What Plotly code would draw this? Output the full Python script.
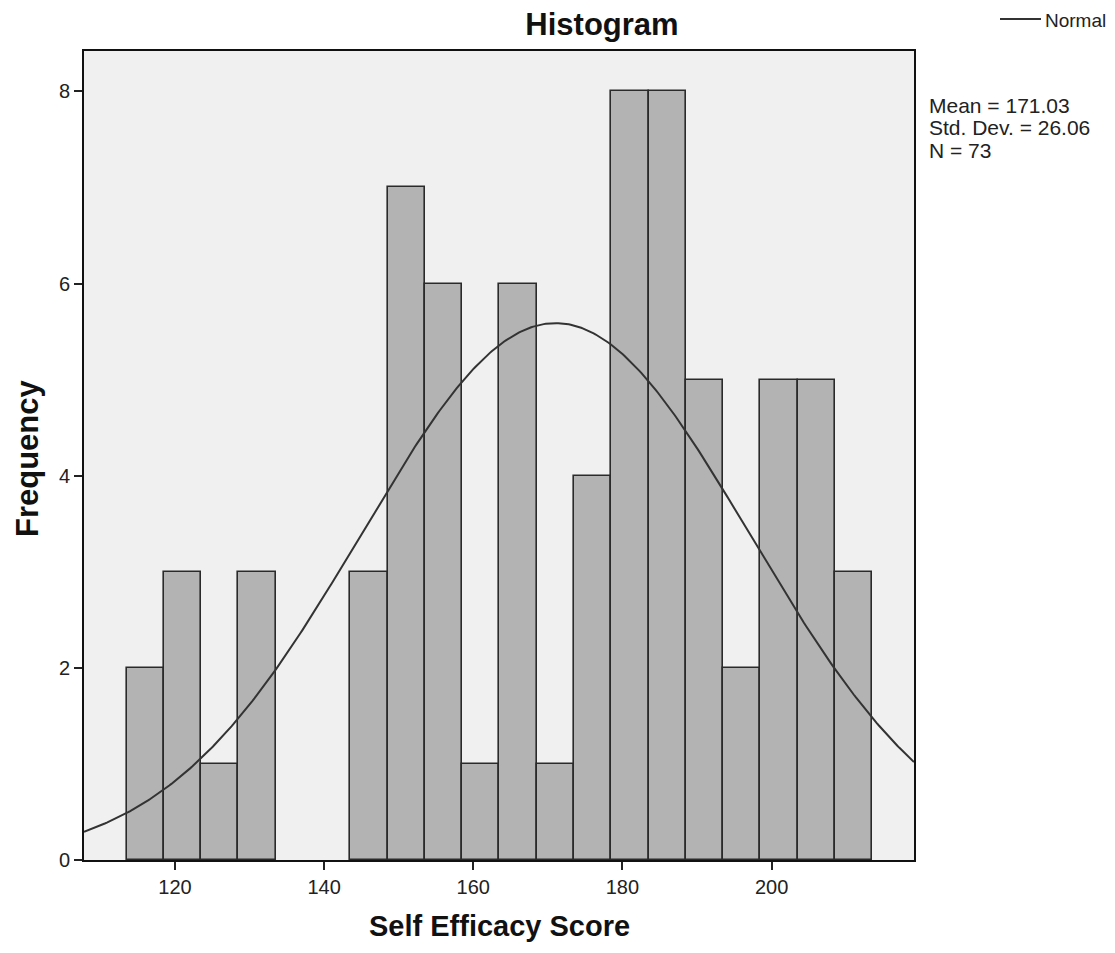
import numpy as np
import plotly.graph_objects as go

# Histogram data
bin_start = 113.5
bin_width = 5.0
counts = [2, 3, 1, 3, 0, 0, 3, 7, 6, 1, 6, 1, 4, 8, 8, 5, 2, 5, 5, 3]

# Summary statistics shown on the chart
mean = 171.03
std_dev = 26.06
n_obs = 73

x_ticks = [120, 140, 160, 180, 200]
y_ticks = [0, 2, 4, 6, 8]
x_range = [107.8, 219.1]
y_range = [0, 8.42]
legend_label = "Normal"
title_text = "Histogram"
x_title = "Self Efficacy Score"
y_title = "Frequency"

centers = [bin_start + bin_width * (i + 0.5) for i in range(len(counts))]
bar_heights = [c if c > 0 else None for c in counts]

# Normal curve scaled to the histogram (N * bin width * pdf)
xs = np.linspace(x_range[0], x_range[1], 400)
ys = n_obs * bin_width * np.exp(-0.5 * ((xs - mean) / std_dev) ** 2) / (std_dev * np.sqrt(2 * np.pi))

# page geometry (body has 8px margin)
PAGE_M = 8
W, H = 1115 - 2 * PAGE_M, 953 - 2 * PAGE_M
PL, PR, PT, PB = 84, 914, 51, 860  # plot area in page pixels


def px(X):
    return (X - PL) / (PR - PL)


def py(Y):
    return (PB - Y) / (PB - PT)


fig = go.Figure()
fig.add_trace(go.Bar(
    x=centers, y=bar_heights, width=bin_width,
    marker=dict(color="#B3B3B3", line=dict(color="#2A2A2A", width=1.6)),
    showlegend=False, hoverinfo="x+y",
))
fig.add_trace(go.Scatter(
    x=xs, y=ys, mode="lines", name=legend_label,
    line=dict(color="#333333", width=2), showlegend=False,
))

fig.update_layout(
    width=W, height=H,
    margin=dict(l=PL - PAGE_M, r=PAGE_M + W - PR, t=PT - PAGE_M, b=PAGE_M + H - PB,
                autoexpand=False),
    paper_bgcolor="white",
    plot_bgcolor="#F0F0F0",
    font=dict(family="Liberation Sans, Arial, sans-serif", color="#222222", size=20),
    title=dict(text=f"<b>{title_text}</b>", x=(602 - PAGE_M) / W, xanchor="center",
               y=1 - (24 - PAGE_M) / H, yanchor="middle",
               font=dict(size=31, color="#111111")),
    bargap=0,
    showlegend=False,
)
fig.update_xaxes(
    range=x_range, tickvals=x_ticks, ticks="outside", ticklen=8, tickwidth=1.5,
    tickcolor="#222222", showgrid=False, zeroline=False,
    showline=True, linecolor="#111111", linewidth=2, mirror=True,
    tickfont=dict(size=20, color="#222222"),
)
fig.update_yaxes(
    range=y_range, tickvals=y_ticks, ticks="outside", ticklen=8, tickwidth=1.5,
    tickcolor="#222222", showgrid=False, zeroline=False,
    showline=True, linecolor="#111111", linewidth=2, mirror=True,
    tickfont=dict(size=20, color="#222222"),
)

# axis titles
fig.add_annotation(xref="paper", yref="paper", x=px(499), y=py(926),
                   xanchor="center", yanchor="middle", showarrow=False,
                   text=f"<b>{x_title}</b>", font=dict(size=29, color="#111111"))
fig.add_annotation(xref="paper", yref="paper", x=px(27), y=py(458),
                   xanchor="center", yanchor="middle", showarrow=False, textangle=-90,
                   text=f"<b>{y_title}</b>", font=dict(size=31, color="#111111"))

# legend key for the normal curve (top right)
fig.add_shape(type="line", xref="paper", yref="paper",
              x0=px(1000), x1=px(1041), y0=py(19), y1=py(19),
              line=dict(color="#333333", width=2))
fig.add_annotation(xref="paper", yref="paper", x=px(1043), y=py(20),
                   xanchor="left", yanchor="middle", text=legend_label,
                   showarrow=False, font=dict(size=19, color="#222222"))

stats_lines = [f"Mean = {mean:.2f}", f"Std. Dev. = {std_dev:.2f}", f"N = {n_obs}"]
for i, line in enumerate(stats_lines):
    fig.add_annotation(
        xref="paper", yref="paper",
        x=px(927), y=py(105 + 22.5 * i), xanchor="left", yanchor="middle",
        text=line, showarrow=False, align="left",
        font=dict(size=21, color="#222222"),
    )

fig.write_html("out.html")
